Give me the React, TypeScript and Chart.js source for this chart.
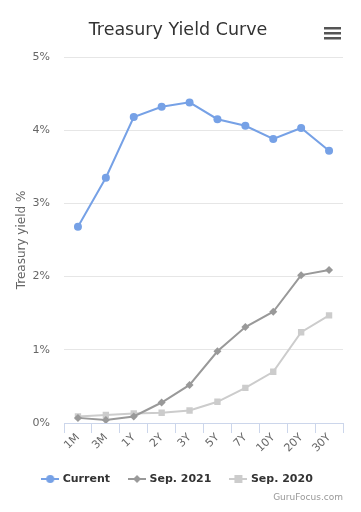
import React, { useEffect, useRef } from "react";
import { Chart, registerables } from "chart.js";

Chart.register(...registerables);

const categories = ["1M", "3M", "1Y", "2Y", "3Y", "5Y", "7Y", "10Y", "20Y", "30Y"];
const currentValues = [2.68, 3.35, 4.18, 4.32, 4.38, 4.15, 4.06, 3.88, 4.03, 3.72];
const sep2021Values = [0.07, 0.04, 0.09, 0.28, 0.52, 0.98, 1.31, 1.52, 2.02, 2.09];
const sep2020Values = [0.09, 0.11, 0.13, 0.14, 0.17, 0.29, 0.48, 0.7, 1.24, 1.47];
const yTicks = [0, 1, 2, 3, 4, 5];

const FONT = "'DejaVu Sans', 'Liberation Sans', sans-serif";
const BLUE = "#76a1e6";
const GRAY = "#999999";
const LIGHT = "#cccccc";

function legendIcon(color: string, style: string): HTMLCanvasElement {
  const c = document.createElement("canvas");
  c.width = 18;
  c.height = 10;
  const g = c.getContext("2d")!;
  g.strokeStyle = color;
  g.lineWidth = 2;
  g.beginPath();
  g.moveTo(0, 5);
  g.lineTo(18, 5);
  g.stroke();
  g.fillStyle = color;
  if (style === "circle") {
    g.beginPath();
    g.arc(9, 5, 4, 0, Math.PI * 2);
    g.fill();
  } else if (style === "diamond") {
    g.beginPath();
    g.moveTo(9, 1);
    g.lineTo(13, 5);
    g.lineTo(9, 9);
    g.lineTo(5, 5);
    g.closePath();
    g.fill();
  } else {
    g.fillRect(5, 1, 8, 8);
  }
  return c;
}

const extrasPlugin = {
  id: "extras",
  afterDraw(chart: any) {
    const ctx = chart.ctx;
    ctx.save();
    ctx.fillStyle = "#555555";
    [27, 32, 37].forEach((y) => ctx.fillRect(324, y, 17, 2.5));
    ctx.fillStyle = "#999999";
    ctx.font = `9px ${FONT}`;
    ctx.textAlign = "right";
    ctx.textBaseline = "alphabetic";
    ctx.fillText("GuruFocus.com", 343, 500);
    ctx.restore();
  },
};

export default function App() {
  const ref = useRef<HTMLCanvasElement | null>(null);
  useEffect(() => {
    if (!ref.current) return;
    const icons = [legendIcon(BLUE, "circle"), legendIcon(GRAY, "diamond"), legendIcon(LIGHT, "square")];
    const chart = new Chart(ref.current, {
      type: "line",
      data: {
        labels: categories,
        datasets: [
          {
            label: "Current",
            data: currentValues,
            borderColor: BLUE,
            backgroundColor: BLUE,
            borderWidth: 2,
            pointStyle: "circle",
            pointRadius: 4,
            pointBorderWidth: 0,
          },
          {
            label: "Sep. 2021",
            data: sep2021Values,
            borderColor: GRAY,
            backgroundColor: GRAY,
            borderWidth: 2,
            pointStyle: "rectRot",
            pointRadius: 4,
            pointBorderWidth: 0,
          },
          {
            label: "Sep. 2020",
            data: sep2020Values,
            borderColor: LIGHT,
            backgroundColor: LIGHT,
            borderWidth: 2,
            pointStyle: "rect",
            pointRadius: 4.5,
            pointBorderWidth: 0,
          },
        ],
      },
      options: {
        responsive: false,
        animation: false,
        layout: { padding: { left: 0, right: 5, top: 0, bottom: 17.5 } },
        plugins: {
          title: {
            display: true,
            text: "Treasury Yield Curve",
            color: "#333333",
            font: { family: FONT, size: 17.5, weight: "normal" },
            padding: { top: 20, bottom: 16 },
          },
          legend: {
            position: "bottom",
            labels: {
              usePointStyle: true,
              pointStyleWidth: 14,
              padding: 20,
              color: "#333333",
              font: { family: FONT, size: 11, weight: "bold" },
              generateLabels: (ch: any) =>
                ch.data.datasets.map((ds: any, i: number) => ({
                  text: ds.label,
                  fillStyle: ds.borderColor,
                  strokeStyle: ds.borderColor,
                  fontColor: "#333333",
                  pointStyle: icons[i],
                  lineWidth: 0,
                  hidden: false,
                  datasetIndex: i,
                })),
            },
          },
          tooltip: { enabled: false },
        },
        scales: {
          x: {
            offset: true,
            grid: {
              offset: true,
              drawOnChartArea: false,
              drawTicks: true,
              tickLength: 10,
              color: "#ccd6eb",
            },
            border: { display: true, color: "#ccd6eb" },
            ticks: {
              color: "#666666",
              font: { family: FONT, size: 11 },
              maxRotation: 45,
              minRotation: 45,
              autoSkip: false,
              padding: -2,
            },
            afterFit: (s: any) => {
              s.height = 30.5;
            },
          },
          y: {
            min: 0,
            max: 5,
            afterBuildTicks: (s: any) => {
              s.ticks = yTicks.map((v) => ({ value: v }));
            },
            grid: { color: "#e6e6e6", drawTicks: false },
            border: { display: false },
            ticks: {
              color: "#666666",
              font: { family: FONT, size: 11 },
              padding: 14,
              callback: (v: any) => v + "%",
            },
            title: {
              display: true,
              text: "Treasury yield %",
              color: "#666666",
              font: { family: FONT, size: 12 },
              padding: { top: 15, bottom: 0 },
            },
            afterFit: (s: any) => {
              s.width = 64;
            },
          },
          spacer: {
            type: "linear",
            position: "right",
            display: true,
            grid: { display: false, drawTicks: false },
            border: { display: false },
            ticks: { display: false },
            afterFit: (s: any) => {
              s.width = 13;
            },
          },
        },
      },
      plugins: [extrasPlugin],
    });
    return () => chart.destroy();
  }, []);
  return (
    <div style={{ position: "fixed", left: 0, top: 0, width: 361, height: 512, background: "#fff" }}>
      <canvas ref={ref} width={361} height={512} style={{ width: 361, height: 512 }} />
    </div>
  );
}
